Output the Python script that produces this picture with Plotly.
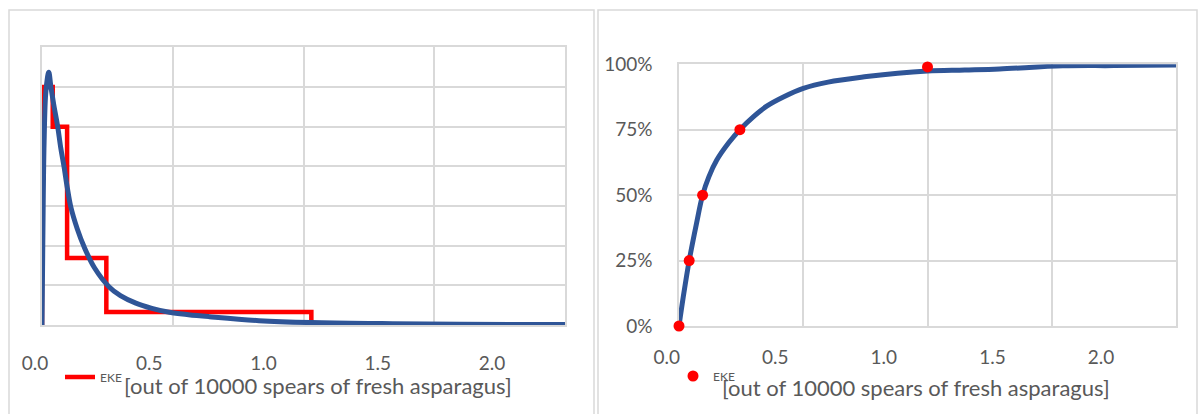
import plotly.graph_objects as go

# ---- data ----
# Histogram of expert estimates (step outline): bin edges and heights
hist_edges = [0.0, 0.0, 0.041, 0.096, 0.246, 1.03, 1.12]
hist_heights = [0.0, 6.0, 5.0, 1.69, 0.33, 0.0, 0.0]

# Fitted density curve
pdf_x = [0.0, 0.003, 0.008, 0.015, 0.026, 0.034, 0.045, 0.06, 0.072, 0.084, 0.097,
         0.11, 0.135, 0.161, 0.2, 0.257, 0.3, 0.359, 0.42, 0.487, 0.56, 0.64,
         0.83, 1.03, 1.3, 1.6, 2.0]
pdf_y = [0.0, 2.0, 4.6, 5.9, 6.37, 6.0, 5.55, 5.0, 4.45, 4.0, 3.45,
         2.98, 2.42, 1.97, 1.45, 0.96, 0.74, 0.55, 0.42, 0.32, 0.26, 0.21,
         0.11, 0.06, 0.035, 0.02, 0.01]

# Elicited quantiles
q_x = [0.0, 0.041, 0.095, 0.245, 1.0]
q_p = [0.0, 0.25, 0.5, 0.75, 0.99]

# Fitted cumulative distribution
cdf_x = [0.0, 0.017, 0.041, 0.07, 0.095, 0.12, 0.152, 0.2, 0.245, 0.3, 0.353,
         0.42, 0.5, 0.6, 0.755, 0.88, 1.0, 1.15, 1.29, 1.545, 1.75, 2.0]
cdf_y = [0.0, 0.11, 0.25, 0.39, 0.5, 0.57, 0.634, 0.70, 0.75, 0.80, 0.84,
         0.875, 0.908, 0.932, 0.953, 0.966, 0.974, 0.978, 0.982, 0.994, 0.995, 0.997]

x_ticks = [0.0, 0.5, 1.0, 1.5, 2.0]
p_ticks = [0.0, 0.25, 0.5, 0.75, 1.0]

series_name = "EKE"
axis_title = "[out of 10000 spears of fresh asparagus]"

# ---- styling ----
W, H = 1203, 414
BLUE = "#2F5597"
RED = "#FF0000"
GRID = "#D9D9D9"
TXT = "#595959"
FONT = "Lato"


def fx(px):
    return px / W


def fy(py):
    return 1 - py / H


fig = go.Figure()

# empty carriers so the tick-label axes get drawn (added first, drawn underneath)
for xa, ya in [("x3", "y3"), ("x4", "y4")]:
    fig.add_trace(go.Scatter(x=[], y=[], xaxis=xa, yaxis=ya, showlegend=False,
                             hoverinfo="skip"))

# left panel: histogram + density
fig.add_trace(go.Scatter(x=hist_edges, y=hist_heights, mode="lines", line_shape="hv",
                         line=dict(color=RED, width=4.5), name=series_name,
                         xaxis="x", yaxis="y", cliponaxis=False, legend="legend"))
fig.add_trace(go.Scatter(x=pdf_x, y=pdf_y, mode="lines", line=dict(color=BLUE, width=5),
                         showlegend=False, xaxis="x", yaxis="y", cliponaxis=False,
                         line_shape="spline"))

# right panel: CDF + quantile points
fig.add_trace(go.Scatter(x=cdf_x, y=cdf_y, mode="lines", line=dict(color=BLUE, width=5),
                         showlegend=False, xaxis="x2", yaxis="y2", cliponaxis=False,
                         line_shape="spline"))
fig.add_trace(go.Scatter(x=q_x, y=q_p, mode="markers", marker=dict(color=RED, size=11),
                         name=series_name, xaxis="x2", yaxis="y2", cliponaxis=False,
                         legend="legend2"))

grid_axis = dict(showgrid=True, gridcolor=GRID, gridwidth=1.5, zeroline=False,
                 showline=True, mirror=True, linecolor=GRID, linewidth=1.5,
                 layer="below traces", ticks="", fixedrange=True, automargin=False)
label_axis = dict(showgrid=False, zeroline=False, showline=False, ticks="outside",
                  tickcolor="rgba(0,0,0,0)", tickvals=x_ticks, tickformat=".1f",
                  range=[0, 2], automargin=False, fixedrange=True,
                  tickfont=dict(family=FONT, size=19, color=TXT))
hidden_y = dict(visible=False, range=[0, 1], fixedrange=True, automargin=False)

fig.update_layout(
    template="none",
    width=W, height=H,
    margin=dict(l=0, r=0, t=0, b=0, pad=0, autoexpand=False),
    paper_bgcolor="white", plot_bgcolor="rgba(0,0,0,0)",
    font=dict(family=FONT, color=TXT),
    hovermode=False,
    # left panel grid
    xaxis=dict(grid_axis, domain=[fx(42), fx(565)], range=[0, 2], tickvals=x_ticks,
               showticklabels=False, anchor="y"),
    yaxis=dict(grid_axis, domain=[fy(325), fy(47.3)], range=[0, 7], dtick=1,
               showticklabels=False, anchor="x"),
    # left panel tick labels
    xaxis3=dict(label_axis, domain=[fx(35), fx(492)], anchor="y3", ticklen=21),
    yaxis3=dict(hidden_y, domain=[fy(325), fy(47.3)], anchor="x3"),
    # right panel grid
    xaxis2=dict(grid_axis, domain=[fx(679), fx(1176)], range=[0, 2], tickvals=x_ticks,
                showticklabels=False, anchor="y2"),
    yaxis2=dict(grid_axis, domain=[fy(326), fy(64.3)], range=[0, 1], tickvals=p_ticks,
                tickformat=".0%", anchor="x2", ticks="outside", ticklen=21,
                tickcolor="rgba(0,0,0,0)",
                tickfont=dict(family=FONT, size=19, color=TXT)),
    # right panel tick labels
    xaxis4=dict(label_axis, domain=[fx(666.7), fx(1101)], anchor="y4", ticklen=14),
    yaxis4=dict(hidden_y, domain=[fy(326), fy(64.3)], anchor="x4"),
    legend=dict(x=fx(60), y=fy(377), xanchor="left", yanchor="middle",
                bgcolor="rgba(0,0,0,0)", font=dict(family=FONT, size=12, color=TXT)),
    legend2=dict(x=fx(673), y=fy(376), xanchor="left", yanchor="middle",
                 bgcolor="rgba(0,0,0,0)", font=dict(family=FONT, size=12, color=TXT)),
    showlegend=True,
)

# axis titles
for x0, y0 in [(122, 385), (719.5, 387)]:
    fig.add_annotation(text=axis_title, x=fx(x0), y=fy(y0), xref="paper", yref="paper",
                       xanchor="left", yanchor="middle", showarrow=False,
                       font=dict(family=FONT, size=22, color=TXT))

# chart frames
for x0, x1 in [(9, 594), (598, 1197)]:
    fig.add_shape(type="rect", xref="paper", yref="paper",
                  x0=fx(x0), x1=fx(x1), y0=fy(430), y1=fy(10),
                  line=dict(color=GRID, width=1.5), fillcolor="rgba(0,0,0,0)", layer="below")

fig.write_html("out.html")
